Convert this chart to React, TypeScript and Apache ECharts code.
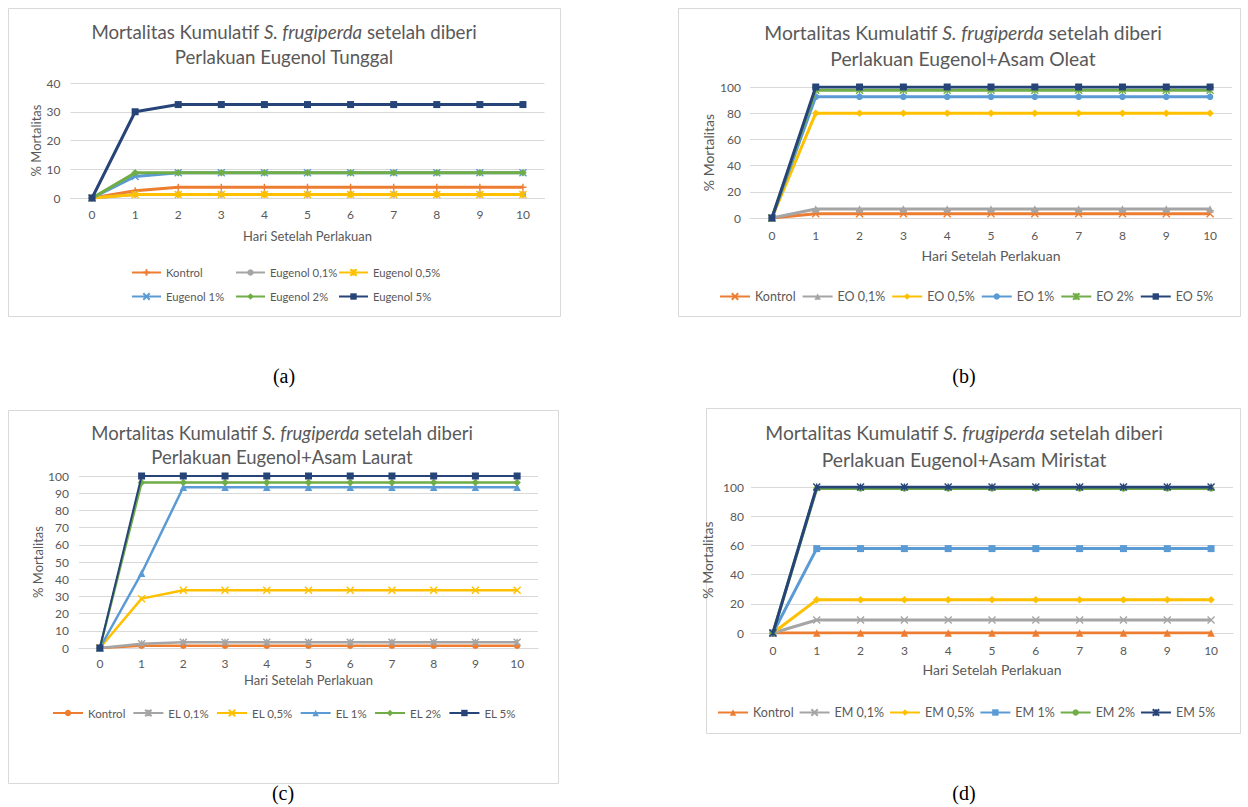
import React, { useEffect, useRef } from "react";
import * as echarts from "echarts";

// ---------- data ----------
const days = ["0", "1", "2", "3", "4", "5", "6", "7", "8", "9", "10"];

// (a) Eugenol Tunggal
const aNames = ["Kontrol", "Eugenol 0,1%", "Eugenol 0,5%", "Eugenol 1%", "Eugenol 2%", "Eugenol 5%"];
const aKontrol = [0, 2.5, 3.75, 3.75, 3.75, 3.75, 3.75, 3.75, 3.75, 3.75, 3.75];
const aE01 = [0, 1.25, 1.25, 1.25, 1.25, 1.25, 1.25, 1.25, 1.25, 1.25, 1.25];
const aE05 = [0, 1.25, 1.25, 1.25, 1.25, 1.25, 1.25, 1.25, 1.25, 1.25, 1.25];
const aE1 = [0, 7.5, 8.75, 8.75, 8.75, 8.75, 8.75, 8.75, 8.75, 8.75, 8.75];
const aE2 = [0, 8.75, 8.75, 8.75, 8.75, 8.75, 8.75, 8.75, 8.75, 8.75, 8.75];
const aE5 = [0, 30, 32.5, 32.5, 32.5, 32.5, 32.5, 32.5, 32.5, 32.5, 32.5];

// (b) Eugenol + Asam Oleat
const bNames = ["Kontrol", "EO 0,1%", "EO 0,5%", "EO 1%", "EO 2%", "EO 5%"];
const bKontrol = [0, 3.3, 3.3, 3.3, 3.3, 3.3, 3.3, 3.3, 3.3, 3.3, 3.3];
const bE01 = [0, 6.9, 6.9, 6.9, 6.9, 6.9, 6.9, 6.9, 6.9, 6.9, 6.9];
const bE05 = [0, 80, 80, 80, 80, 80, 80, 80, 80, 80, 80];
const bE1 = [0, 92.5, 92.5, 92.5, 92.5, 92.5, 92.5, 92.5, 92.5, 92.5, 92.5];
const bE2 = [0, 97.5, 97.5, 97.5, 97.5, 97.5, 97.5, 97.5, 97.5, 97.5, 97.5];
const bE5 = [0, 100, 100, 100, 100, 100, 100, 100, 100, 100, 100];

// (c) Eugenol + Asam Laurat
const cNames = ["Kontrol", "EL 0,1%", "EL 0,5%", "EL 1%", "EL 2%", "EL 5%"];
const cKontrol = [0, 1.3, 1.3, 1.3, 1.3, 1.3, 1.3, 1.3, 1.3, 1.3, 1.3];
const cE01 = [0, 2.5, 3.4, 3.4, 3.4, 3.4, 3.4, 3.4, 3.4, 3.4, 3.4];
const cE05 = [0, 28.7, 33.6, 33.6, 33.6, 33.6, 33.6, 33.6, 33.6, 33.6, 33.6];
const cE1 = [0, 43.5, 93.5, 93.5, 93.5, 93.5, 93.5, 93.5, 93.5, 93.5, 93.5];
const cE2 = [0, 96.2, 96.2, 96.2, 96.2, 96.2, 96.2, 96.2, 96.2, 96.2, 96.2];
const cE5 = [0, 100, 100, 100, 100, 100, 100, 100, 100, 100, 100];

// (d) Eugenol + Asam Miristat
const dNames = ["Kontrol", "EM 0,1%", "EM 0,5%", "EM 1%", "EM 2%", "EM 5%"];
const dKontrol = [0, 0, 0, 0, 0, 0, 0, 0, 0, 0, 0];
const dE01 = [0, 8.9, 8.9, 8.9, 8.9, 8.9, 8.9, 8.9, 8.9, 8.9, 8.9];
const dE05 = [0, 22.7, 22.7, 22.7, 22.7, 22.7, 22.7, 22.7, 22.7, 22.7, 22.7];
const dE1 = [0, 57.8, 57.8, 57.8, 57.8, 57.8, 57.8, 57.8, 57.8, 57.8, 57.8];
const dE2 = [0, 99, 99, 99, 99, 99, 99, 99, 99, 99, 99];
const dE5 = [0, 100, 100, 100, 100, 100, 100, 100, 100, 100, 100];

const titleLine1 = ["Mortalitas Kumulatif ", "S. frugiperda", " setelah diberi"];
const titleLine2 = [
  "Perlakuan Eugenol Tunggal",
  "Perlakuan Eugenol+Asam Oleat",
  "Perlakuan Eugenol+Asam Laurat",
  "Perlakuan Eugenol+Asam Miristat",
];
const captions = ["(a)", "(b)", "(c)", "(d)"];
const xName = "Hari Setelah Perlakuan";
const yName = "% Mortalitas";

// ---------- style ----------
const COLORS = ["#ED7D31", "#A5A5A5", "#FFC000", "#5B9BD5", "#70AD47", "#264478"];
const TXT = "#595959";
const GRID = "#D9D9D9";
const FONT = "Lato";

const SYM_X = "path://M0,0L10,10M10,0L0,10";
const SYM_STAR = "path://M0,0L10,10M10,0L0,10M5,0L5,10";
const SYM_PLUS = "path://M5,0L5,10M0,5L10,5";

const isPath = (s: string) => s.startsWith("path://");

type Panel = {
  names: string[];
  data: number[][];
  symbols: string[];
  widths: number[];
  grid: { left: number; top: number; width: number; height: number };
  yMax: number;
  yInt: number;
  yNameGap: number;
  xNameGap: number;
  xLabelMargin: number;
  yLabelMargin: number;
  nameSize: number;
};

const panels: Panel[] = [
  {
    names: aNames,
    data: [aKontrol, aE01, aE05, aE1, aE2, aE5],
    symbols: [SYM_PLUS, "circle", SYM_STAR, SYM_X, "diamond", "rect"],
    widths: [3, 3, 3, 3, 3, 3],
    grid: { left: 70.5, top: 83, width: 474, height: 115 },
    yMax: 40, yInt: 10, yNameGap: 24, xNameGap: 31, xLabelMargin: 10, yLabelMargin: 10, nameSize: 13,
  },
  {
    names: bNames,
    data: [bKontrol, bE01, bE05, bE1, bE2, bE5],
    symbols: [SYM_X, "triangle", "diamond", "circle", SYM_STAR, "rect"],
    widths: [3, 3, 3, 3, 3, 3],
    grid: { left: 750, top: 87, width: 482, height: 131 },
    yMax: 100, yInt: 20, yNameGap: 35, xNameGap: 30, xLabelMargin: 11, yLabelMargin: 9, nameSize: 14,
  },
  {
    names: cNames,
    data: [cKontrol, cE01, cE05, cE1, cE2, cE5],
    symbols: ["circle", SYM_STAR, SYM_X, "triangle", "diamond", "rect"],
    widths: [2.5, 2.5, 2.5, 2.5, 2.5, 2],
    grid: { left: 79, top: 476, width: 459, height: 172 },
    yMax: 100, yInt: 10, yNameGap: 34, xNameGap: 25, xLabelMargin: 9, yLabelMargin: 10, nameSize: 13,
  },
  {
    names: dNames,
    data: [dKontrol, dE01, dE05, dE1, dE2, dE5],
    symbols: ["triangle", SYM_X, "diamond", "rect", "circle", SYM_STAR],
    widths: [3, 3, 3, 3, 3, 3],
    grid: { left: 751, top: 487, width: 482, height: 146 },
    yMax: 100, yInt: 20, yNameGap: 37, xNameGap: 29, xLabelMargin: 11, yLabelMargin: 7, nameSize: 14,
  },
];

const borders = [
  { x: 8.5, y: 8.5, w: 552, h: 308 },
  { x: 678.5, y: 8.5, w: 562, h: 308 },
  { x: 8.5, y: 410.5, w: 550, h: 373 },
  { x: 706.5, y: 408.5, w: 534, h: 325 },
];
const titlePos = [
  { x: 284, y: 19.5, lh: 25, fs: 18.7 },
  { x: 963, y: 19, lh: 26, fs: 19.3 },
  { x: 282, y: 420.5, lh: 24, fs: 18.5 },
  { x: 964, y: 418.5, lh: 27, fs: 19.3 },
];
const captionPos = [
  { x: 284, y: 376 },
  { x: 964, y: 376 },
  { x: 283, y: 793 },
  { x: 964, y: 793 },
];
// legend (a): fixed columns / rows
const aLegendCols = [131, 235, 338];
const aLegendRows = [267, 291];

function buildOption() {
  const grids: any[] = [];
  const xAxes: any[] = [];
  const yAxes: any[] = [];
  const series: any[] = [];
  const legends: any[] = [];
  const graphics: any[] = [];

  panels.forEach((p, gi) => {
    grids.push({ ...p.grid, containLabel: false });
    xAxes.push({
      type: "category",
      gridIndex: gi,
      data: days,
      boundaryGap: true,
      name: xName,
      nameLocation: "middle",
      nameGap: p.xNameGap,
      nameTextStyle: { color: TXT, fontSize: p.nameSize, fontFamily: FONT },
      axisLine: { show: true, lineStyle: { color: GRID, width: 1 } },
      axisTick: { show: false },
      axisLabel: { color: TXT, fontSize: 12, fontFamily: FONT, margin: p.xLabelMargin },
      splitLine: { show: false },
    });
    yAxes.push({
      type: "value",
      gridIndex: gi,
      min: 0,
      max: p.yMax,
      interval: p.yInt,
      name: yName,
      nameLocation: "middle",
      nameRotate: 90,
      nameGap: p.yNameGap,
      nameTextStyle: { color: TXT, fontSize: p.nameSize, fontFamily: FONT },
      axisLine: { show: false },
      axisTick: { show: false },
      axisLabel: { color: TXT, fontSize: 12, fontFamily: FONT, margin: p.yLabelMargin },
      splitLine: { show: true, lineStyle: { color: GRID, width: 1 } },
    });
    p.names.forEach((n, si) => {
      const sym = p.symbols[si];
      const path = isPath(sym);
      series.push({
        type: "line",
        name: `${gi}:${n}`,
        xAxisIndex: gi,
        yAxisIndex: gi,
        data: p.data[si],
        symbol: sym,
        symbolSize: path ? 7 : sym === "rect" ? 7 : sym === "circle" ? 6.5 : 7.5,
        showAllSymbol: true,
        lineStyle: { color: COLORS[si], width: p.widths[si] },
        itemStyle: {
          color: COLORS[si],
          borderColor: COLORS[si],
          borderWidth: path ? 1.4 : 0,
        },
        emphasis: { disabled: true },
        z: 2 + si,
      });
    });

    graphics.push({
      type: "rect",
      shape: { x: borders[gi].x, y: borders[gi].y, width: borders[gi].w, height: borders[gi].h },
      style: { fill: "none", stroke: GRID, lineWidth: 1 },
      z: -1,
    });
    const tp = titlePos[gi];
    const base = { fontSize: tp.fs, fontFamily: FONT, fill: TXT, lineHeight: tp.lh };
    graphics.push({
      type: "text",
      x: tp.x,
      y: tp.y,
      style: {
        text: `{n|${titleLine1[0]}}{i|${titleLine1[1]}}{n|${titleLine1[2]}}\n{n|${titleLine2[gi]}}`,
        align: "center",
        verticalAlign: "top",
        rich: { n: { ...base }, i: { ...base, fontStyle: "italic" } },
      },
    });
    graphics.push({
      type: "text",
      x: captionPos[gi].x,
      y: captionPos[gi].y,
      style: {
        text: captions[gi],
        font: '20px "Liberation Serif"',
        fill: "#000",
        align: "center",
        verticalAlign: "middle",
      },
    });
  });

  const legendBase = {
    orient: "horizontal",
    itemWidth: 30,
    itemHeight: 8,
    selectedMode: false,
    textStyle: { color: TXT, fontSize: 12.5, fontFamily: FONT },
    formatter: (name: string) => name.slice(name.indexOf(":") + 1),
    padding: 0,
  };

  // (a): two rows with fixed columns, one legend per item
  aNames.forEach((n, i) => {
    legends.push({
      ...legendBase,
      left: aLegendCols[i % 3],
      top: aLegendRows[Math.floor(i / 3)],
      itemWidth: 29,
      textStyle: { ...legendBase.textStyle, fontSize: 11.3 },
      data: [`0:${n}`],
    });
  });
  legends.push({ ...legendBase, left: 719, top: 290, itemGap: 6, data: bNames.map((n) => `1:${n}`) });
  legends.push({
    ...legendBase,
    left: 52,
    top: 707,
    itemGap: 7,
    textStyle: { ...legendBase.textStyle, fontSize: 11.5 },
    data: cNames.map((n) => `2:${n}`),
  });
  legends.push({ ...legendBase, left: 717, top: 706, itemGap: 5, data: dNames.map((n) => `3:${n}`) });

  return {
    animation: false,
    backgroundColor: "#ffffff",
    grid: grids,
    xAxis: xAxes,
    yAxis: yAxes,
    legend: legends,
    series,
    graphic: graphics,
  };
}

export default function App() {
  const ref = useRef<HTMLDivElement>(null);
  useEffect(() => {
    if (!ref.current) return;
    const chart = echarts.init(ref.current, null, { renderer: "svg" });
    chart.setOption(buildOption() as any);
    return () => chart.dispose();
  }, []);
  return (
    <div
      ref={ref}
      style={{ position: "absolute", left: 0, top: 0, width: 1248, height: 807, background: "#fff" }}
    />
  );
}
